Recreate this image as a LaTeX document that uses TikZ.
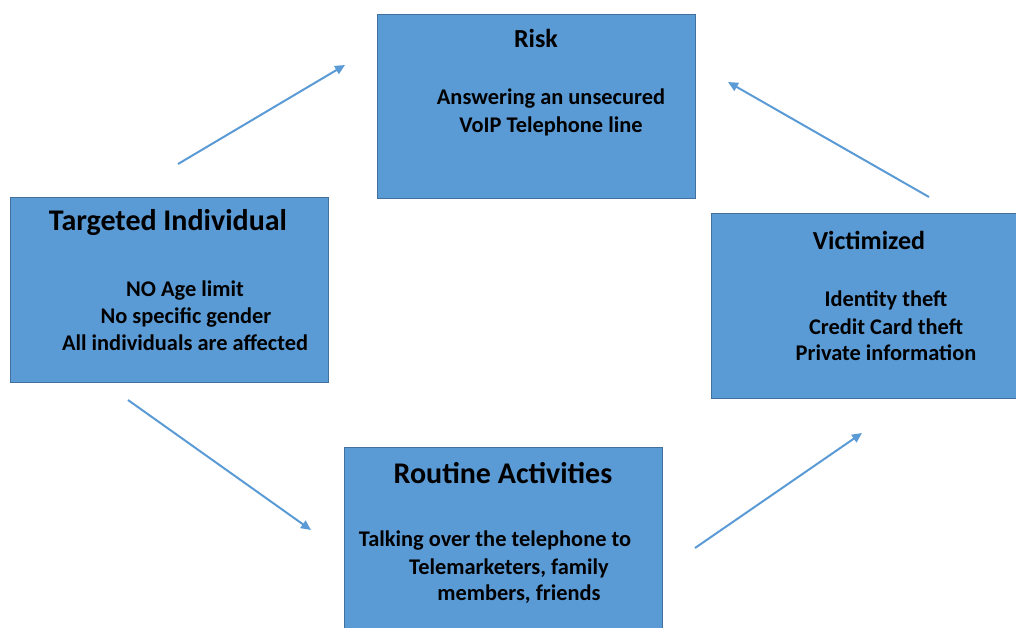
\documentclass[tikz,border=0pt]{standalone}
\usepackage{fontspec}
\setmainfont{Carlito}
\usetikzlibrary{arrows.meta}
\definecolor{boxfill}{HTML}{5B9BD5}
\definecolor{boxline}{HTML}{41719C}
\definecolor{arrowcol}{HTML}{5B9BD5}
\tikzset{
  box/.style={draw=boxline, line width=0.6pt, fill=boxfill, rectangle, inner sep=0pt},
  ttl/.style={font=\bfseries\fontsize{13}{15}\selectfont, inner sep=0pt, text=black},
  bigttl/.style={font=\bfseries\fontsize{15}{17}\selectfont, inner sep=0pt, text=black},
  body/.style={font=\bfseries\fontsize{11.2}{13}\selectfont, inner sep=0pt, text=black},
  flow/.style={draw=arrowcol, line width=1pt, -{Triangle[length=5pt,width=4.5pt]}}
}
\begin{document}
\begin{tikzpicture}[x=0.5pt,y=-0.5pt]
\useasboundingbox (0,0) rectangle (1016,627);
\clip (0,0) rectangle (1016,627);
% boxes
\node[box, minimum width=159pt, minimum height=92pt, anchor=north west] (risk) at (377,14) {};
\node[box, minimum width=159pt, minimum height=92.5pt, anchor=north west] (target) at (10,197) {};
\node[box, minimum width=200pt, minimum height=92.5pt, anchor=north west] (victim) at (711,213) {};
\node[box, minimum width=159pt, minimum height=120pt, anchor=north west] (routine) at (344,447) {};
% texts
\node[ttl] (riskt) at (536,38) {Risk};
\node[body] (risk1) at (551,99) {Answering an unsecured};
\node[body] (risk2) at (551,126) {VoIP Telephone line};
\node[bigttl] (targett) at (168,223) {Targeted Individual};
\node[body] (target1) at (185,291) {NO Age limit};
\node[body] (target2) at (186,318) {No specific gender};
\node[body] (target3) at (185,343) {All individuals are affected};
\node[ttl] (victimt) at (869,240) {Victimized};
\node[body] (victim1) at (886,300) {Identity theft};
\node[body] (victim2) at (886,327) {Credit Card theft};
\node[body] (victim3) at (886,353) {Private information};
\node[bigttl] (routinet) at (503,473) {Routine Activities};
\node[body] (routine1) at (495,541) {Talking over the telephone to};
\node[body] (routine2) at (509,568) {Telemarketers, family};
\node[body] (routine3) at (519,594) {members, friends};
% arrow endpoints
\coordinate (a1s) at (178,164);
\coordinate (a1e) at (345,65);
\coordinate (a2s) at (929,197);
\coordinate (a2e) at (728,82);
\coordinate (a3s) at (128,400);
\coordinate (a3e) at (311,530);
\coordinate (a4s) at (695,548);
\coordinate (a4e) at (862,433);
\draw[flow] (a1s) -- (a1e);
\draw[flow] (a2s) -- (a2e);
\draw[flow] (a3s) -- (a3e);
\draw[flow] (a4s) -- (a4e);
\end{tikzpicture}
\end{document}
